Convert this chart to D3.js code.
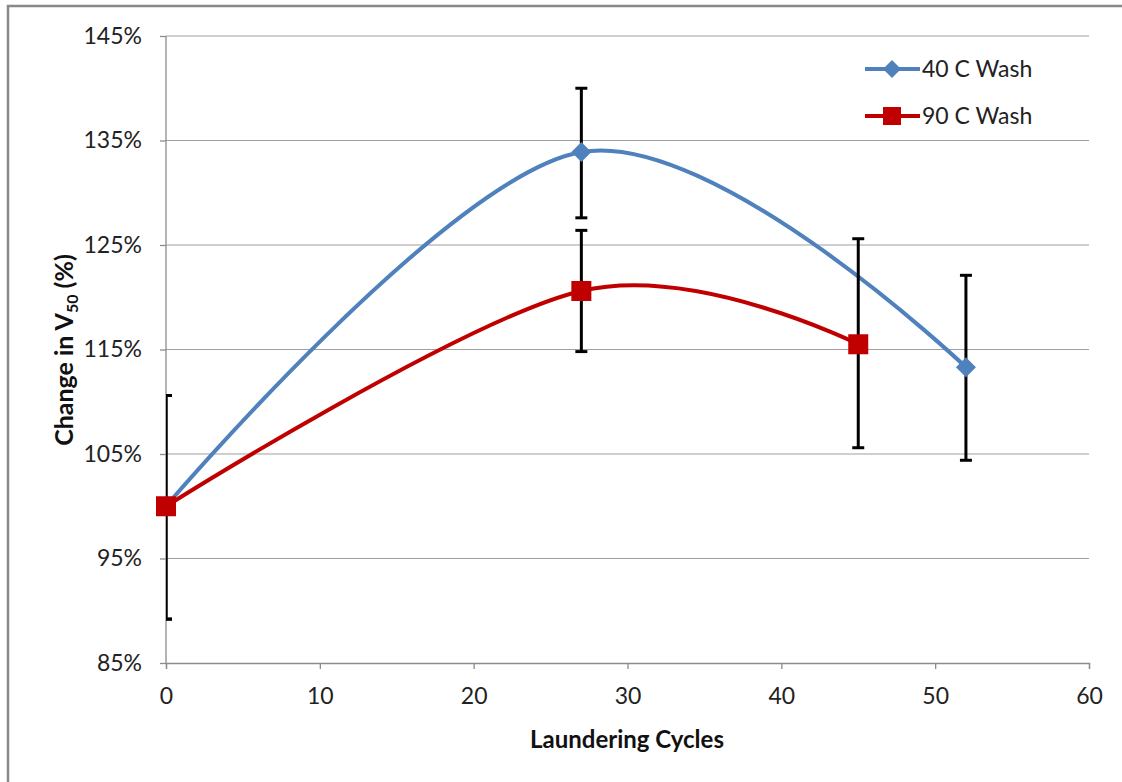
<!DOCTYPE html>
<html><head><meta charset="utf-8">
<script src="https://cdn.jsdelivr.net/npm/d3@7"></script>
<style>body{margin:0;background:#fff}svg{display:block}text{font-family:Lato,"Open Sans",sans-serif}</style>
</head><body><svg id="c" width="1122" height="782"></svg>
<script>
const xTicks = [0,10,20,30,40,50,60];
const yTicks = [0.85,0.95,1.05,1.15,1.25,1.35,1.45];
const seriesNames = ["40 C Wash","90 C Wash"];
const cycles40 = [0,27,52];
const values40 = [1.000,1.339,1.133];
const errLow40 = [0.892,1.276,1.044];
const errHigh40 = [1.106,1.400,1.221];
const cycles90 = [0,27,45];
const values90 = [1.000,1.206,1.155];
const errLow90 = [0.892,1.148,1.056];
const errHigh90 = [1.106,1.264,1.256];
const colors = ["#4F81BD","#C00000"];

const svg = d3.select("#c");
const m = {l:166,r:1089,t:36,b:663};
const x = d3.scaleLinear().domain([0,60]).range([m.l,m.r]);
const y = d3.scaleLinear().domain([0.85,1.45]).range([m.b,m.t]);

// outer border
svg.append("rect").attr("x",8).attr("y",6).attr("width",1130).attr("height",800)
  .attr("fill","none").attr("stroke","#888").attr("stroke-width",2.5);

// gridlines
svg.append("g").selectAll("line").data(yTicks.slice(1)).join("line")
  .attr("x1",m.l).attr("x2",m.r).attr("y1",d=>y(d)).attr("y2",d=>y(d))
  .attr("stroke","#a0a0a0").attr("stroke-width",1.2);

// axes
const yAxis = d3.axisLeft(y).tickValues(yTicks).tickFormat(d3.format(".0%")).tickSize(6).tickPadding(18);
const gy = svg.append("g").attr("transform",`translate(${m.l},0)`).call(yAxis);
const xAxis = d3.axisBottom(x).tickValues(xTicks).tickSize(6).tickPadding(19);
const gx = svg.append("g").attr("transform",`translate(0,${m.b})`).call(xAxis);
[gx,gy].forEach(g=>{
  g.select(".domain").attr("stroke","#8c8c8c").attr("stroke-width",1.3);
  g.selectAll(".tick line").attr("stroke","#8c8c8c").attr("stroke-width",1.3);
  g.selectAll("text").attr("font-size",23).attr("fill","#222").attr("font-family","Lato");
});
gy.select(".domain").attr("d",`M-0,${m.b}V${m.t}`);

// lines
const line = d3.line().x(d=>x(d[0])).y(d=>y(d[1])).curve(d3.curveCatmullRom.alpha(0));
const s40 = cycles40.map((c,i)=>[c,values40[i],errLow40[i],errHigh40[i]]);
const s90 = cycles90.map((c,i)=>[c,values90[i],errLow90[i],errHigh90[i]]);

svg.append("path").datum(s40).attr("d",line).attr("fill","none").attr("stroke",colors[0]).attr("stroke-width",4);
svg.append("path").datum(s90).attr("d",line).attr("fill","none").attr("stroke",colors[1]).attr("stroke-width",4);

// clip for error bars
svg.append("clipPath").attr("id","pc").append("rect").attr("x",m.l).attr("y",0).attr("width",m.r-m.l).attr("height",782);

function errBars(data){
  const g = svg.append("g").attr("clip-path","url(#pc)");
  data.forEach(d=>{
    const cx = x(d[0]);
    g.append("line").attr("x1",cx).attr("x2",cx).attr("y1",y(d[2])).attr("y2",y(d[3])).attr("stroke","#000").attr("stroke-width",3);
    [d[2],d[3]].forEach(v=>{
      g.append("line").attr("x1",cx-6).attr("x2",cx+6).attr("y1",y(v)).attr("y2",y(v)).attr("stroke","#000").attr("stroke-width",3);
    });
  });
}
errBars(s40);
errBars(s90);

// markers
function diamond(g,cx,cy,r){ g.append("path").attr("d",`M${cx},${cy-r}L${cx+r},${cy}L${cx},${cy+r}L${cx-r},${cy}Z`).attr("fill",colors[0]); }
function square(g,cx,cy,h){ g.append("rect").attr("x",cx-h).attr("y",cy-h).attr("width",2*h).attr("height",2*h).attr("fill",colors[1]); }
const mk = svg.append("g");
s40.forEach(d=>diamond(mk,x(d[0]),y(d[1]),10));
s90.forEach(d=>square(mk,x(d[0]),y(d[1]),10));

// legend
const lg = svg.append("g");
[0,1].forEach(i=>{
  const ly = 69 + i*47;
  lg.append("line").attr("x1",865).attr("x2",920).attr("y1",ly).attr("y2",ly).attr("stroke",colors[i]).attr("stroke-width",4);
  if(i===0) diamond(lg,892,ly,9); else square(lg,892,ly,9);
  lg.append("text").attr("x",922).attr("y",ly+8).attr("font-size",23).attr("fill","#222").text(seriesNames[i]);
});

// axis titles
svg.append("text").attr("x",627).attr("y",748).attr("text-anchor","middle")
  .attr("font-size",24).attr("font-weight","bold").attr("fill","#111").text("Laundering Cycles");
const yt = svg.append("text").attr("transform","translate(73,350) rotate(-90)").attr("text-anchor","middle")
  .attr("font-size",25).attr("font-weight","bold").attr("fill","#111");
yt.append("tspan").text("Change in V");
yt.append("tspan").attr("font-size",16).attr("dy",5).text("50");
yt.append("tspan").attr("dy",-5).text(" (%)");
</script></body></html>
